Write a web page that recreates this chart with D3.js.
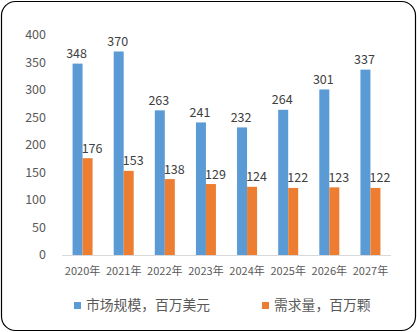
<!DOCTYPE html>
<html><head><meta charset="utf-8">
<script src="https://cdn.jsdelivr.net/npm/d3@7"></script>
<style>body{margin:0;background:#fff}svg{display:block}</style>
</head><body>
<script>
const categories = ["2020年","2021年","2022年","2023年","2024年","2025年","2026年","2027年"];
const marketSize = [348,370,263,241,232,264,301,337];
const demand = [176,153,138,129,124,122,123,122];
const seriesNames = ["市场规模，百万美元","需求量，百万颗"];
const yTicks = [0,50,100,150,200,250,300,350,400];

const W=417,H=332;
const font = "'Noto Sans CJK SC','Noto Sans',sans-serif";
const svg = d3.select("body").append("svg").attr("width",W).attr("height",H);
svg.append("rect").attr("x",1.5).attr("y",1.5).attr("width",W-3).attr("height",H-3)
  .attr("rx",14).attr("fill","#fff").attr("stroke","#000").attr("stroke-width",1.2);

const x0 = d3.scaleBand().domain(categories).range([62,391]);
const y = d3.scaleLinear().domain([0,400]).range([255,35]);
const x1 = d3.scaleBand().domain([0,1]).range([0,20]);
const colors = ["#5B9BD5","#ED7D31"];
const labelShift = [-1,4.5];
const series = [marketSize, demand];

// y tick labels
svg.append("g").selectAll("text").data(yTicks).join("text")
  .attr("x",46).attr("y",d=>y(d)).attr("dy","0.35em").attr("text-anchor","end")
  .attr("font-family",font).attr("font-size",12.5).attr("fill","#595959").text(d=>d);

// axis line
svg.append("line").attr("x1",x0.range()[0]).attr("x2",x0.range()[1]).attr("y1",y(0)+0.5).attr("y2",y(0)+0.5)
  .attr("stroke","#D9D9D9").attr("stroke-width",1);

// bars
series.forEach((vals,si)=>{
  const g = svg.append("g");
  g.selectAll("rect").data(vals).join("rect")
    .attr("x",(d,i)=>x0(categories[i])+x0.bandwidth()/2-10+x1(si))
    .attr("width",x1.bandwidth())
    .attr("y",d=>y(d)).attr("height",d=>y(0)-y(d)).attr("fill",colors[si]);
  g.selectAll("text").data(vals).join("text")
    .attr("x",(d,i)=>x0(categories[i])+x0.bandwidth()/2-10+x1(si)+x1.bandwidth()/2+labelShift[si])
    .attr("y",d=>y(d)-5.5).attr("text-anchor","middle")
    .attr("font-family",font).attr("font-size",12.5).attr("fill","#404040").text(d=>d);
});

// x labels
svg.append("g").selectAll("text").data(categories).join("text")
  .attr("x",d=>x0(d)+x0.bandwidth()/2).attr("y",271).attr("dy","0.35em").attr("text-anchor","middle")
  .attr("font-family",font).attr("font-size",11).attr("fill","#595959").text(d=>d);

// legend
const legX = [74,262];
seriesNames.forEach((n,i)=>{
  svg.append("rect").attr("x",legX[i]).attr("y",302).attr("width",7).attr("height",7).attr("fill",colors[i]);
  svg.append("text").attr("x",legX[i]+12).attr("y",305.5).attr("dy","0.35em")
    .attr("font-family",font).attr("font-size",13.8).attr("fill","#595959").text(n);
});
</script>
</body></html>
